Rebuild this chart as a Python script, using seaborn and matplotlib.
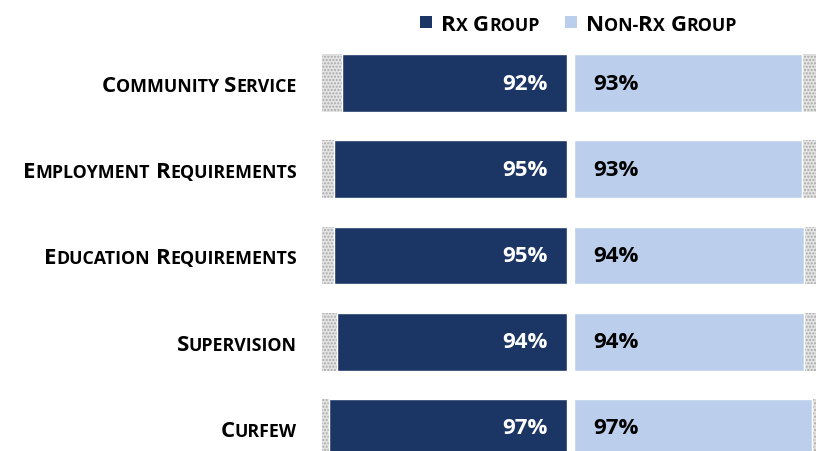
import numpy as np
import pandas as pd
import seaborn as sns
import matplotlib.pyplot as plt
from matplotlib.transforms import IdentityTransform
from matplotlib.patches import Rectangle

# Dados
categories = ['Community Service', 'Employment Requirements', 'Education Requirements',
              'Supervision', 'Curfew']
rx_values = [92, 95, 95, 94, 97]
non_rx_values = [93, 93, 94, 94, 97]
full_scale = [100, 100, 100, 100, 100]
series_names = ['Rx Group', 'Non-Rx Group']

dark = '#1B3665'
light = '#BBCFEC'
gray = '#e4e4e4'

sns.set_style('white')
plt.rcParams['font.family'] = ['Open Sans', 'DejaVu Sans']

W, H = 816, 452
fig = plt.figure(figsize=(W / 100, H / 100), dpi=100)

df = pd.DataFrame({'category': categories, 'rx': rx_values,
                   'non_rx': non_rx_values, 'full': full_scale})

# dois eixos: esquerda (invertido) e direita
ax_left = fig.add_axes([322 / W, (H - 472) / H, 245 / W, 431 / H])
ax_right = fig.add_axes([574 / W, (H - 472) / H, 245 / W, 431 / H])

for ax, col, color in [(ax_left, 'rx', dark), (ax_right, 'non_rx', light)]:
    sns.barplot(data=df, y='category', x='full', color=gray, saturation=1,
                width=0.67, ax=ax, orient='h')
    for p in ax.patches:
        p.set_hatch('.....')
        p.set_edgecolor('#a8a8a8')
        p.set_linewidth(0)
    sns.barplot(data=df, y='category', x=col, color=color, saturation=1,
                width=0.67, ax=ax, orient='h')
    ax.set_ylim(4.5, -0.5)
    ax.axis('off')

ax_left.set_xlim(100, 0)
ax_right.set_xlim(0, 100)

# rótulos de porcentagem
for i, (a, b) in enumerate(zip(rx_values, non_rx_values)):
    ax_left.text(8, i, f'{a}%', ha='right', va='center', color='white',
                 fontsize=16, fontweight='bold')
    ax_right.text(8, i, f'{b}%', ha='left', va='center', color='black',
                  fontsize=16, fontweight='bold')

renderer = fig.canvas.get_renderer()


def small_caps(x, y, text, big=16, small=12.8, ha='left', color='black'):
    # x, y em pixels (linha de base)
    runs = []
    for c in text:
        if c == ' ':
            runs.append((None, big))
            continue
        size = big if (c.isupper() or c.isdigit()) else small
        if runs and runs[-1][0] is not None and runs[-1][1] == size:
            runs[-1] = (runs[-1][0] + c.upper(), size)
        else:
            runs.append((c.upper(), size))
    pieces = []
    total = 0
    for s, size in runs:
        if s is None:
            w = 0.25 * size * 100 / 72
            pieces.append((None, w))
        else:
            t = fig.text(0, 0, s, fontsize=size, fontweight='bold', color=color,
                         va='baseline', ha='left', transform=IdentityTransform())
            w = t.get_window_extent(renderer).width
            pieces.append((t, w))
        total += w
    pos = x - total if ha == 'right' else x
    for t, w in pieces:
        if t is not None:
            t.set_position((pos, y))
        pos += w


# rótulos das categorias
for i, cat in enumerate(categories):
    cy = ax_left.transData.transform((0, i))[1]
    small_caps(297, cy - 8, cat, ha='right')

# legenda
for (x0, name, color) in [(420, series_names[0], dark), (565, series_names[1], light)]:
    fig.add_artist(Rectangle((x0, H - 29), 12, 12, transform=IdentityTransform(),
                             facecolor=color, edgecolor='none'))
    small_caps(x0 + 21, H - 31, name, ha='left')

fig.savefig('out.png', dpi=100)
